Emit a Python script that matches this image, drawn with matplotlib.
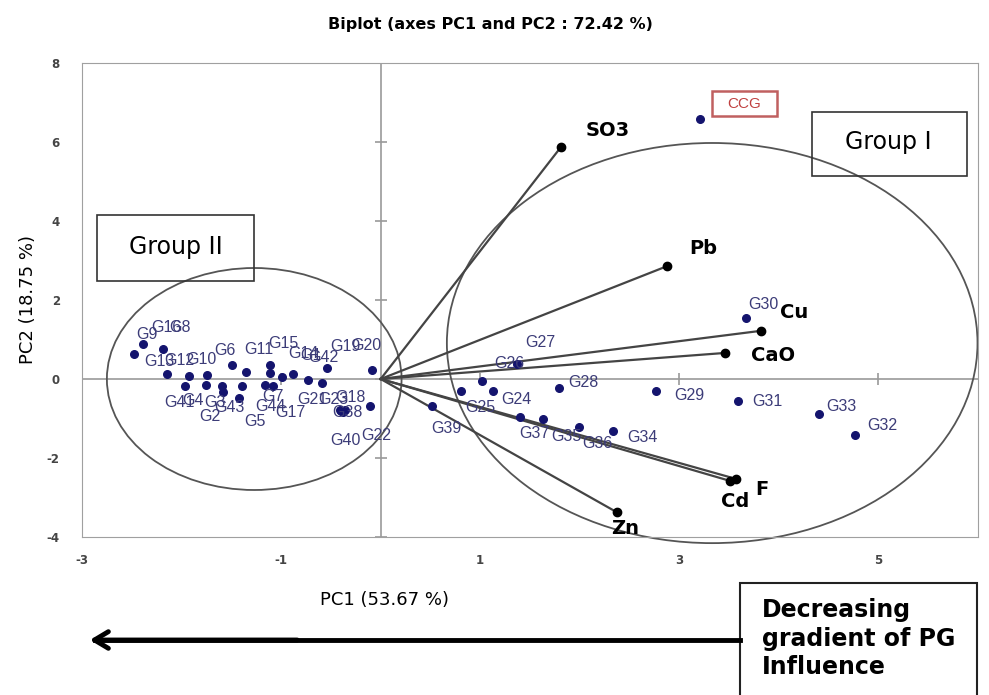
import matplotlib.pyplot as plt
from matplotlib.patches import Ellipse, Rectangle

plt.rcParams["axes.unicode_minus"] = False

# scores of the samples (PC1, PC2)
samples = ["G9", "G16", "G8", "G13", "G12", "G41", "G10", "G4", "G3", "G6",
           "G43", "G11", "G5", "G15", "G14", "G44", "G17", "G7", "G19", "G21",
           "G1", "G42", "G20", "G22", "G18", "G40", "G23", "G2", "G38",
           "G24", "G25", "G26", "G27", "G28", "G29", "G30", "G31", "G32",
           "G33", "G34", "G35", "G36", "G37", "G39"]
pc1 = [-2.48, -2.39, -2.19, -2.15, -1.93, -1.97, -1.74, -1.75, -1.59, -1.49,
       -1.39, -1.35, -1.42, -1.11, -1.11, -1.16, -1.08, -0.99, -0.88, -0.73,
       -0.59, -0.54, -0.09, -0.11, -0.41, -0.38, -0.40, -1.58, -0.36,
       1.13, 0.81, 1.02, 1.37, 1.79, 2.77, 3.67, 3.59, 4.76,
       4.40, 2.33, 1.63, 1.99, 1.40, 0.52]
pc2 = [0.63, 0.89, 0.76, 0.13, 0.08, -0.18, 0.10, -0.15, -0.18, 0.35,
       -0.18, 0.18, -0.48, 0.35, 0.15, -0.15, -0.18, 0.05, 0.13, -0.03,
       -0.10, 0.28, 0.23, -0.68, -0.78, -0.84, -0.80, -0.33, -0.78,
       -0.30, -0.30, -0.05, 0.38, -0.23, -0.30, 1.55, -0.56, -1.42,
       -0.89, -1.32, -1.02, -1.22, -0.97, -0.69]

# label shifts (pixels) so the names sit roughly where they were drawn
lab_dx = [2, 9, 7, -22, -24, -20, -21, -24, -18, -18,
          -28, -2, 5, -2, 18, -10, 2, -20, 37, -11,
          -22, -19, -20, -8, -5, -13, -23, -24, -13,
          8, 4, 12, 8, 9, 18, 2, 14, 13,
          8, 15, 8, 3, -1, -1]
lab_dy = [20, 16, 21, 12, 15, -16, 16, -16, -16, 15,
          -21, 22, -24, 22, 20, -22, -26, -19, 27, -19,
          27, 10, 24, -30, 12, -28, 11, -24, -3,
          -9, -17, 17, 21, 6, -5, 13, 0, 10,
          8, -6, -17, -16, -16, -22]

ccg_x, ccg_y = 3.21, 6.57

# variable loadings
variables = ["SO3", "Pb", "Cu", "CaO", "F", "Cd", "Zn"]
var_x = [1.81, 2.88, 3.82, 3.46, 3.57, 3.51, 2.37]
var_y = [5.87, 2.86, 1.22, 0.66, -2.53, -2.58, -3.37]
var_dx = [25, 22, 19, 26, 19, -9, -5]
var_dy = [17, 18, 18, -3, -11, -21, -16]

xticks = [-3, -1, 1, 3, 5]
yticks = [-4, -2, 0, 2, 4, 6, 8]

fig = plt.figure(figsize=(9.89, 6.95), dpi=100)
ax = fig.add_axes([82 / 989, 158 / 695, 896 / 989, 474 / 695])
ax.set_xlim(-3, 6)
ax.set_ylim(-4, 8)
ax.set_xticks(xticks)
ax.set_yticks(yticks)
ax.tick_params(length=0, labelsize=8.5, labelcolor="#454545", pad=12)
ax.tick_params(axis="y", pad=16)
for lab in ax.get_xticklabels() + ax.get_yticklabels():
    lab.set_fontweight("bold")
for s in ax.spines.values():
    s.set_color("#a0a0a0")

# crosshair axes through the origin with small ticks
ax.axhline(0, color="#9a9a9a", lw=1.2, zorder=1)
ax.axvline(0, color="#9a9a9a", lw=1.2, zorder=1)
ax.plot(xticks, [0] * len(xticks), ls="none", marker="|", ms=9, mew=1.2, color="#9a9a9a")
ax.plot([0] * len(yticks), yticks, ls="none", marker="_", ms=9, mew=1.2, color="#9a9a9a")

# group ellipses
ax.add_patch(Ellipse((-1.27, 0.0), 2.96, 5.62, fill=False, ec="#555555", lw=1.3, clip_on=False))
ax.add_patch(Ellipse((3.33, 0.91), 5.33, 10.13, fill=False, ec="#555555", lw=1.3, clip_on=False))

# loadings
for name, x, y, dx, dy in zip(variables, var_x, var_y, var_dx, var_dy):
    ax.plot([0, x], [0, y], color="#444444", lw=1.6, zorder=3)
    ax.plot(x, y, "o", color="black", ms=6, zorder=4)
    ax.annotate(name, (x, y), xytext=(dx, dy), textcoords="offset pixels",
                ha="left", va="center", fontsize=14, fontweight="bold", color="black")

# observations
ax.scatter(pc1, pc2, s=30, color="#14146e", zorder=5)
for name, x, y, dx, dy in zip(samples, pc1, pc2, lab_dx, lab_dy):
    ax.annotate(name, (x, y), xytext=(dx, dy), textcoords="offset pixels",
                ha="left", va="center", fontsize=11.5, family="Liberation Sans",
                color="#3c3c78", zorder=6)

ax.scatter([ccg_x], [ccg_y], s=30, color="#14146e", zorder=5)
ax.add_patch(Rectangle((3.33, 6.65), 0.65, 0.63, fill=False, ec="#c06060", lw=1.8))
ax.text(3.655, 6.96, "CCG", ha="center", va="center", fontsize=11,
        family="Liberation Sans", color="#c04040")

# group boxes
ax.add_patch(Rectangle((-2.85, 2.49), 1.575, 1.67, fill=False, ec="#333333", lw=1.2, clip_on=False))
ax.text(-2.06, 3.33, "Group II", ha="center", va="center", fontsize=17)
ax.add_patch(Rectangle((4.33, 5.15), 1.56, 1.6, fill=False, ec="#333333", lw=1.2, clip_on=False))
ax.text(5.1, 6.0, "Group I", ha="center", va="center", fontsize=17)

fig.text(490 / 989, 1 - 25 / 695, "Biplot (axes PC1 and PC2 : 72.42 %)",
         ha="center", va="center", fontsize=11.5, fontweight="bold")
fig.text(385 / 989, 1 - 600 / 695, "PC1 (53.67 %)", ha="center", va="center", fontsize=13)
fig.text(28 / 989, 1 - 300 / 695, "PC2 (18.75 %)", ha="center", va="center",
         fontsize=13, rotation=90)

# gradient arrow and note
fig.patches.append(Rectangle((740 / 989, -0.05), 237 / 989, (695 - 583) / 695 + 0.05,
                             transform=fig.transFigure, fill=False, ec="#222222", lw=1.5))
fig.text(762 / 989, 1 - 598 / 695, "Decreasing\ngradient of PG\nInfluence",
         ha="left", va="top", fontsize=17, fontweight="bold", linespacing=1.25)
fig.add_artist(plt.Line2D([95 / 989, 740 / 989], [1 - 640 / 695, 1 - 640 / 695],
                          transform=fig.transFigure, color="black", lw=3.5))
ax.annotate("", xy=(87 / 989, 1 - 640 / 695), xytext=(300 / 989, 1 - 640 / 695),
            xycoords="figure fraction", textcoords="figure fraction",
            arrowprops=dict(arrowstyle="->,head_length=1.0,head_width=0.6", lw=3.5, color="black"))

fig.savefig("out.png", dpi=100)
